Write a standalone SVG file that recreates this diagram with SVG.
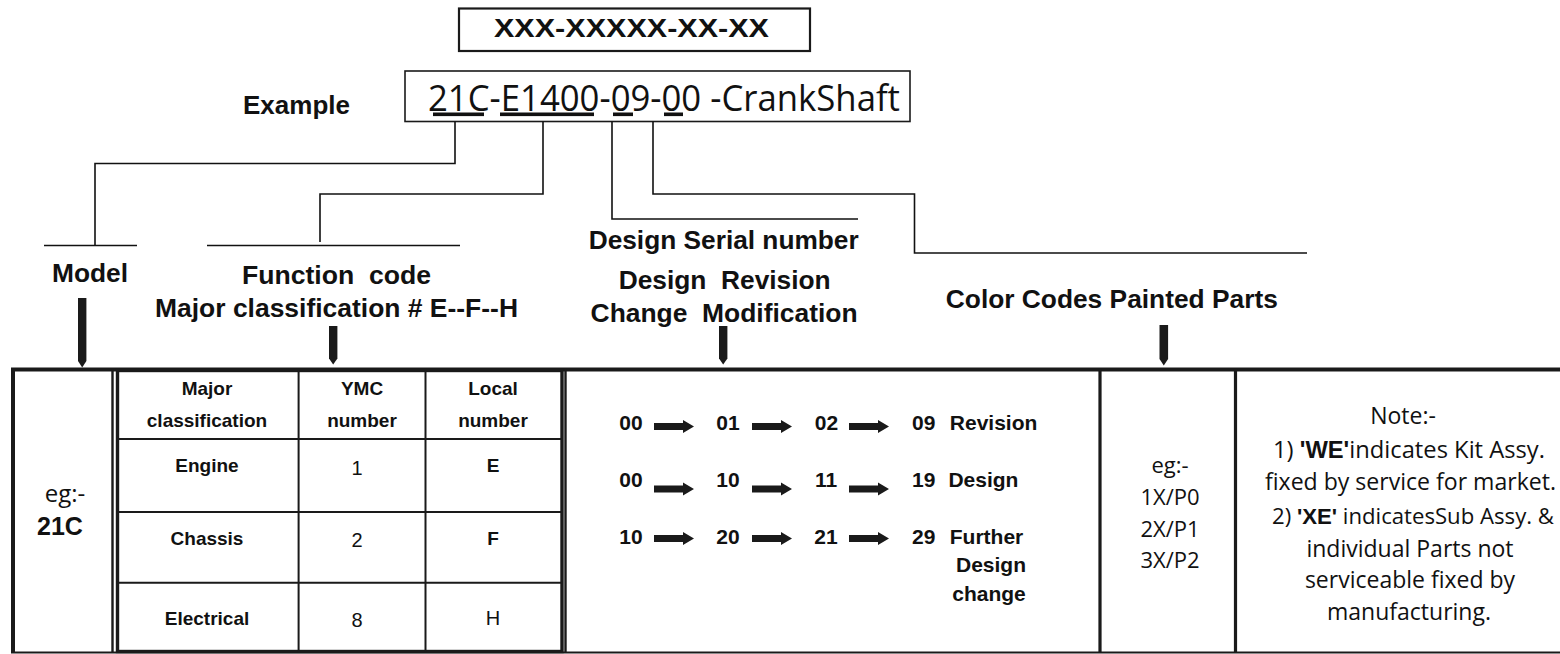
<svg xmlns="http://www.w3.org/2000/svg" xmlns:xlink="http://www.w3.org/1999/xlink" width="1560" height="654" viewBox="0 0 1560 654">
<style>
.h{font-family:"Liberation Sans",Arial,sans-serif;font-weight:bold;font-size:25px;fill:#111}
.t{font-family:"Liberation Sans",Arial,sans-serif;font-weight:bold;font-size:19px;fill:#111}
.tr{font-family:"Liberation Sans",Arial,sans-serif;font-size:20px;fill:#111}
.r{font-family:"Liberation Sans",Arial,sans-serif;font-weight:bold;font-size:21px;fill:#111}
.m{font-family:"Open Sans","Noto Sans",sans-serif;fill:#111}
.ln{fill:none;stroke:#111;stroke-width:1.6}
.b{fill:none;stroke:#1a1a1a}
.c{text-anchor:middle}
.va{fill:#1a1a1a}
</style>
<defs>
<path id="harrow" d="M0,-3.6 H29 V-6.5 L40,0 L29,6.5 V3.6 H0 Z" fill="#1a1a1a"/>
</defs>
<rect width="1560" height="654" fill="#fff"/>

<g id="format">
<rect x="459" y="8.5" width="351" height="42.5" class="b" stroke-width="2.2"/>
<text x="494" y="37" class="h" font-size="20.5" textLength="275" lengthAdjust="spacingAndGlyphs">XXX-XXXXX-XX-XX</text>
</g>

<g id="example">
<text x="243" y="114.3" class="h" textLength="107" lengthAdjust="spacingAndGlyphs">Example</text>
<rect x="405" y="71" width="505" height="50.5" class="b" stroke-width="1.6"/>
<text x="428" y="110.7" class="m" font-size="36" textLength="472" lengthAdjust="spacingAndGlyphs">21C-E1400-09-00 -CrankShaft</text>
<rect x="433" y="112.5" width="51" height="3.6" fill="#111"/>
<rect x="500" y="112.5" width="94" height="3.6" fill="#111"/>
<rect x="613" y="112.5" width="20" height="3.6" fill="#111"/>
<rect x="664" y="112.5" width="19" height="3.6" fill="#111"/>
</g>

<g id="connectors">
<path class="ln" d="M455,121.5 V163.5 H95 V245.5"/>
<path class="ln" d="M44,245.5 H137"/>
<path class="ln" d="M543,121.5 V194 H320 V242"/>
<path class="ln" d="M207,245.5 H460"/>
<path class="ln" d="M612,121.5 V219 H858"/>
<path class="ln" d="M653,121.5 V194 H914.5 V253 H1307"/>
<path class="va" d="M78,298 H86.4 V361 L82.2,367.5 L78,361 Z"/>
<path class="va" d="M329,326 H337.4 V358.5 L333.2,364.5 L329,358.5 Z"/>
<path class="va" d="M719,326 H727.4 V358.5 L723.2,364.5 L719,358.5 Z"/>
<path class="va" d="M1159.5,325 H1168.1 V359 L1163.8,365.5 L1159.5,359 Z"/>
</g>

<g id="model-label">
<text x="52" y="281.7" class="h" font-size="23" textLength="76" lengthAdjust="spacingAndGlyphs">Model</text>
</g>
<g id="function-label">
<text x="242" y="284" class="h" xml:space="preserve" textLength="189" lengthAdjust="spacingAndGlyphs">Function  code</text>
<text x="155" y="317" class="h" textLength="363" lengthAdjust="spacingAndGlyphs">Major classification # E--F--H</text>
</g>
<g id="serial-label">
<text x="588.7" y="249" class="h" textLength="270" lengthAdjust="spacingAndGlyphs">Design Serial number</text>
<text x="618.7" y="289" class="h" xml:space="preserve" textLength="212" lengthAdjust="spacingAndGlyphs">Design  Revision</text>
<text x="590.6" y="322" class="h" xml:space="preserve" textLength="267" lengthAdjust="spacingAndGlyphs">Change  Modification</text>
</g>
<g id="color-label">
<text x="945.8" y="307.5" class="h" textLength="332" lengthAdjust="spacingAndGlyphs">Color Codes Painted Parts</text>
</g>

<g id="table-frame">
<path class="b" stroke-width="4" d="M11,369.5 H1560 M13,369.5 V652"/>
<path class="b" stroke-width="2" d="M11,652.5 H1560"/>
<path class="b" stroke-width="2.4" d="M112.5,369.5 V652 M565.5,369.5 V652"/>
<path class="b" stroke-width="3.2" d="M1100,369.5 V652 M1235.5,369.5 V652"/>
</g>

<g id="model-cell">
<text x="65" y="501.7" class="m c" font-size="24">eg:-</text>
<text x="60" y="535" class="h c" font-size="26">21C</text>
</g>

<g id="function-table">
<rect x="117.5" y="370.5" width="444.5" height="281" class="b" stroke-width="3.4"/>
<path class="b" stroke-width="2" d="M298.6,370.5 V651.5 M425.5,370.5 V651.5 M117.5,439 H562 M117.5,512 H562 M117.5,582.7 H562"/>
<text x="207" y="395" class="t c">Major</text>
<text x="207" y="427" class="t c">classification</text>
<text x="362" y="395" class="t c">YMC</text>
<text x="362" y="427" class="t c">number</text>
<text x="493" y="395" class="t c">Local</text>
<text x="493" y="427" class="t c">number</text>
<text x="207" y="471.7" class="t c">Engine</text>
<text x="357" y="475" class="tr c">1</text>
<text x="493" y="471.7" class="t c">E</text>
<text x="207" y="545" class="t c">Chassis</text>
<text x="357" y="547" class="tr c">2</text>
<text x="493" y="545" class="t c">F</text>
<text x="207" y="625" class="t c">Electrical</text>
<text x="357" y="626.7" class="tr c">8</text>
<text x="493" y="625" class="tr c">H</text>
</g>

<g id="revision-cell">
<text x="631" y="430" class="r c">00</text>
<use xlink:href="#harrow" x="654" y="426.5"/>
<text x="728" y="430" class="r c">01</text>
<use xlink:href="#harrow" x="752" y="426.5"/>
<text x="826.5" y="430" class="r c">02</text>
<use xlink:href="#harrow" x="849" y="426.5"/>
<text x="912" y="430" class="r">09</text>
<text x="949.8" y="430" class="r">Revision</text>

<text x="631" y="486.5" class="r c">00</text>
<use xlink:href="#harrow" x="654" y="489"/>
<text x="728" y="486.5" class="r c">10</text>
<use xlink:href="#harrow" x="752" y="489"/>
<text x="826" y="486.5" class="r c">11</text>
<use xlink:href="#harrow" x="849" y="489"/>
<text x="912" y="486.5" class="r">19</text>
<text x="948.4" y="486.5" class="r">Design</text>

<text x="631" y="543.5" class="r c">10</text>
<use xlink:href="#harrow" x="654" y="538.5"/>
<text x="728" y="543.5" class="r c">20</text>
<use xlink:href="#harrow" x="752" y="538.5"/>
<text x="826" y="543.5" class="r c">21</text>
<use xlink:href="#harrow" x="849" y="538.5"/>
<text x="912" y="543.5" class="r">29</text>
<text x="949.8" y="543.5" class="r">Further</text>
<text x="991" y="572" class="r c">Design</text>
<text x="989" y="600.5" class="r c">change</text>
</g>

<g id="color-cell">
<text x="1170" y="473" class="m c" font-size="22">eg:-</text>
<text x="1170" y="505" class="m c" font-size="22">1X/P0</text>
<text x="1170" y="536.7" class="m c" font-size="22">2X/P1</text>
<text x="1170" y="568.3" class="m c" font-size="22">3X/P2</text>
</g>

<g id="note-cell">
<text x="1403" y="424" class="m c" font-size="23">Note:-</text>
<text x="1273" y="458.3" class="m" font-size="23" textLength="272" lengthAdjust="spacingAndGlyphs">1) <tspan font-family="Liberation Sans, Arial, sans-serif" font-weight="bold">'WE'</tspan>indicates Kit Assy.</text>
<text x="1265" y="490" class="m" font-size="23" textLength="291" lengthAdjust="spacingAndGlyphs">fixed by service for market.</text>
<text x="1272" y="524" class="m" font-size="21.3" textLength="282" lengthAdjust="spacingAndGlyphs">2) <tspan font-family="Liberation Sans, Arial, sans-serif" font-weight="bold">'XE'</tspan> indicatesSub Assy. &amp;</text>
<text x="1410" y="556.7" class="m c" font-size="23">individual Parts not</text>
<text x="1410" y="588" class="m c" font-size="23">serviceable fixed by</text>
<text x="1409" y="620" class="m c" font-size="23">manufacturing.</text>
</g>
</svg>
